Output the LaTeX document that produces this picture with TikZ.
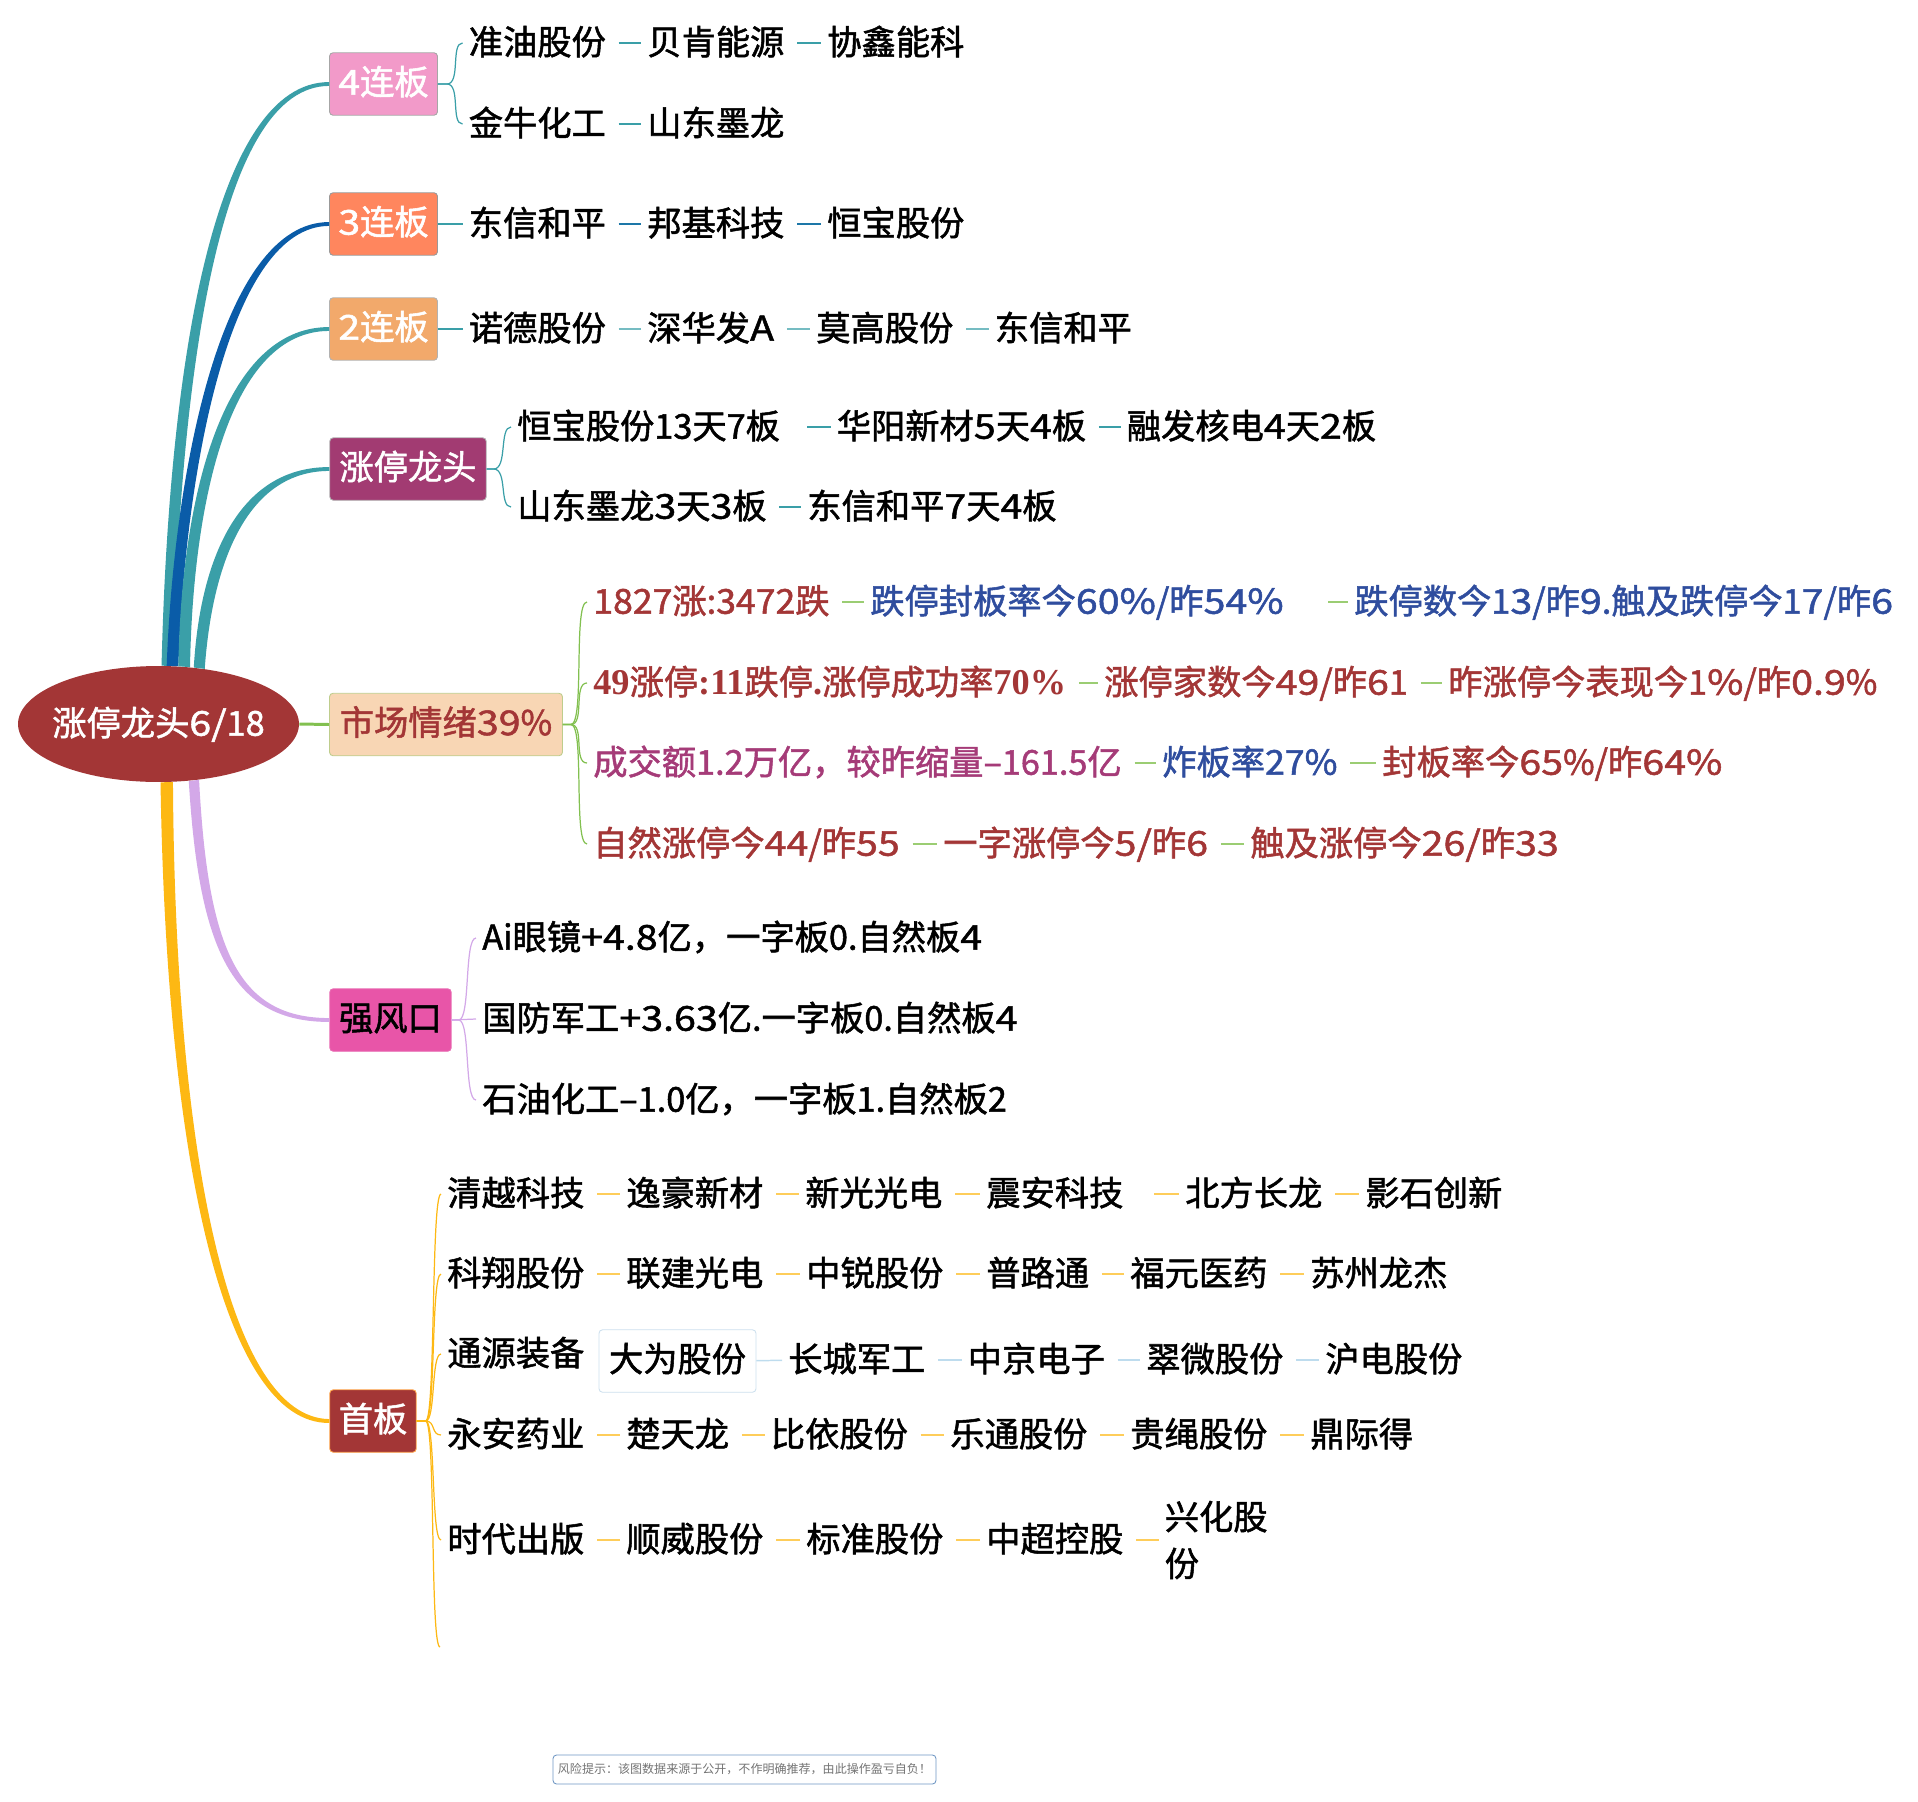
\documentclass[tikz,border=0pt]{standalone}
\usepackage{fontspec}
\usetikzlibrary{shapes.geometric}
\setmainfont{Noto Sans CJK SC}[FakeBold=1.5]
\newfontfamily\plainfont{Noto Sans CJK SC}
\newfontfamily\lat{Noto Sans CJK SC}[FakeBold=1.5,FakeStretch=1.15]
\newfontfamily\latb{Noto Sans CJK SC}[FakeBold=1.5,FakeStretch=1.04]
\newfontfamily\numfont{Liberation Serif}[Scale=1.06]
\definecolor{rootred}{HTML}{A33636}
\definecolor{leafblue}{HTML}{2F4D9E}
\definecolor{leafplum}{HTML}{A53B78}
\definecolor{teal1}{HTML}{3A9FA8}
\definecolor{blue1}{HTML}{0A5CA8}
\definecolor{green1}{HTML}{82C050}
\definecolor{lilac1}{HTML}{D3A8E8}
\definecolor{gold1}{HTML}{FDB813}
\definecolor{sky1}{HTML}{BEDCEE}
\definecolor{pinkbox}{HTML}{F29AC9}
\definecolor{coralbox}{HTML}{FF865E}
\definecolor{sandbox}{HTML}{F2A96B}
\definecolor{plumbox}{HTML}{A23B72}
\definecolor{peachbox}{HTML}{F8D6B4}
\definecolor{peachedge}{HTML}{BECD8C}
\definecolor{hotbox}{HTML}{E855A8}
\definecolor{hotedge}{HTML}{E86EB4}
\definecolor{paleedge}{HTML}{CDE0EE}
\definecolor{riskedge}{HTML}{6E96C3}
\newcommand{\bigfont}{\fontsize{19.5pt}{26.6pt}\selectfont}
\begin{document}
\begin{tikzpicture}[x=0.02cm,y=0.02cm,
	leaf/.style={anchor=west,inner xsep=3.4pt,inner ysep=0pt,font=\bigfont,text height=16.4pt,text depth=3.1pt},
	head/.style={rounded corners=2pt,inner sep=0pt,font=\bigfont,text height=15.8pt,text depth=3.7pt,minimum height=1.25cm,line width=0.5pt},
	limb/.style={fill=#1,draw=none},
	twig/.style={draw=#1,line width=0.7pt},
	link/.style={draw=#1,line width=0.85pt,shorten <=3.7pt}]
	\useasboundingbox (0,0) rectangle (1918,-1802);
	\node [ellipse,fill=rootred,text=white,minimum width=5.62cm,minimum height=2.32cm,inner xsep=-5pt,inner ysep=0pt,font=\bigfont,text height=16.4pt,text depth=3.1pt] (root) at (158.5,-724) {涨停龙头{\lat 6/}18};
	\node [head,fill=pinkbox,draw=gray!70,text=white,minimum width=2.16cm] (b4) at (383.5,-84) {{\lat 4}连板};
	\node [head,fill=coralbox,draw=gray!80,text=white,minimum width=2.16cm] (b3) at (383.5,-224) {{\lat 3}连板};
	\node [head,fill=sandbox,draw=gray!60,text=white,minimum width=2.16cm] (b2) at (383.5,-329) {{\lat 2}连板};
	\node [head,fill=plumbox,draw=gray!60,text=white,minimum width=3.13cm] (blead) at (408,-469) {涨停龙头};
	\node [head,fill=peachbox,draw=peachedge,text=rootred,minimum width=4.66cm] (bmood) at (446,-724.5) {市场情绪{\lat 39}\%};
	\node [head,fill=hotbox,draw=hotedge,text=black,minimum width=2.43cm] (bwind) at (390.5,-1020) {强风口};
	\node [head,fill=rootred,draw=orange!70,text=white,minimum width=1.73cm] (bfirst) at (373,-1421) {首板};
	\fill [limb=teal1] (root.87) .. controls (169,-360) and (215,-82) .. ([yshift=1.1pt]b4.west) -- ([yshift=-1.1pt]b4.west) .. controls (222,-86) and (181,-360) .. (root.76) -- cycle;
	\fill [limb=blue1] (root.82) .. controls (174,-470) and (222,-222) .. ([yshift=1.1pt]b3.west) -- ([yshift=-1.1pt]b3.west) .. controls (230,-226) and (185,-470) .. (root.71) -- cycle;
	\fill [limb=teal1] (root.71) .. controls (181,-500) and (222,-327) .. ([yshift=1.1pt]b2.west) -- ([yshift=-1.1pt]b2.west) .. controls (230,-331) and (193,-500) .. (root.61) -- cycle;
	\fill [limb=teal1] (root.58) .. controls (200,-560) and (238,-467) .. ([yshift=1.1pt]blead.west) -- ([yshift=-1.1pt]blead.west) .. controls (246,-471) and (212,-565) .. (root.50) -- cycle;
	\draw [green1,line width=1.7pt] (root.east) -- (bmood.west);
	\fill [limb=lilac1] (root.-62) .. controls (199,-950) and (232,-1022) .. ([yshift=-1.1pt]bwind.west) -- ([yshift=1.1pt]bwind.west) .. controls (238,-1018) and (208,-950) .. (root.-54) -- cycle;
	\fill [limb=gold1] (root.-88) .. controls (166,-1150) and (222,-1424) .. ([yshift=-1.1pt]bfirst.west) -- ([yshift=1.1pt]bfirst.west) .. controls (228,-1418) and (175,-1150) .. (root.-76) -- cycle;
	\node [leaf] (a1) at (462.5,-43) {准油股份};
	\node [leaf] (a2) at (641,-43) {贝肯能源};
	\node [leaf] (a3) at (821,-43) {协鑫能科};
	\node [leaf] (c1) at (462.5,-124) {金牛化工};
	\node [leaf] (c2) at (641,-124) {山东墨龙};
	\node [leaf] (d1) at (462.5,-224) {东信和平};
	\node [leaf] (d2) at (641,-224) {邦基科技};
	\node [leaf] (d3) at (821,-224) {恒宝股份};
	\node [leaf] (e1) at (462.5,-329) {诺德股份};
	\node [leaf] (e2) at (641,-329) {深华发{\lat A}};
	\node [leaf] (e3) at (810,-329) {莫高股份};
	\node [leaf] (e4) at (988.5,-329) {东信和平};
	\node [leaf] (f1) at (511,-427) {恒宝股份13天7板};
	\node [leaf] (f2) at (830.5,-427) {华阳新材{\lat 5}天{\lat 4}板};
	\node [leaf] (f3) at (1120.5,-427) {融发核电{\lat 4}天{\lat 2}板};
	\node [leaf] (g1) at (511,-507) {山东墨龙{\lat 3}天{\lat 3}板};
	\node [leaf] (g2) at (801,-507) {东信和平{\lat 7}天{\lat 4}板};
	\draw [twig=teal1] (b4.east) -- ++(9,0) .. controls +(14,0) and +(-12,0) .. (a1.west);
	\draw [twig=teal1] (b4.east) -- ++(9,0) .. controls +(14,0) and +(-12,0) .. (c1.west);
	\draw [twig=teal1] (b3.east) -- (d1.west);
	\draw [twig=teal1] (b2.east) -- (e1.west);
	\draw [twig=teal1] (blead.east) -- ++(7,0) .. controls +(14,0) and +(-12,0) .. (f1.west);
	\draw [twig=teal1] (blead.east) -- ++(7,0) .. controls +(14,0) and +(-12,0) .. (g1.west);
	\draw [link=teal1] (a1) -- (a2);
	\draw [link=teal1] (a2) -- (a3);
	\draw [link=teal1] (c1) -- (c2);
	\draw [link=blue1!60!teal1] (d1) -- (d2);
	\draw [link=blue1!60!teal1] (d2) -- (d3);
	\draw [link=teal1!70] (e1) -- (e2);
	\draw [link=teal1!70] (e2) -- (e3);
	\draw [link=teal1!70] (e3) -- (e4);
	\draw [link=teal1,shorten <=11.9pt] (f1) -- (f2);
	\draw [link=teal1] (f2) -- (f3);
	\draw [link=teal1] (g1) -- (g2);
	\node [leaf,text=rootred] (h1) at (587,-602) {{\latb 1827}涨:{\latb 3472}跌};
	\node [leaf,text=leafblue] (h2) at (864,-602) {跌停封板率今{\lat 60\%}/昨{\lat 54\%}};
	\node [leaf,text=leafblue] (h3) at (1348,-602) {跌停数今1{\lat 3}/昨{\lat 9}.触及跌停今1{\lat 7}/昨{\lat 6}};
	\node [leaf,text=rootred] (i1) at (587,-683) {{\numfont\bfseries 49}涨停{\numfont\bfseries :11}跌停{\numfont\bfseries .}涨停成功率{\numfont\bfseries 70\%}};
	\node [leaf,text=rootred] (i2) at (1098,-683) {涨停家数今{\lat 49}/昨{\lat 6}1};
	\node [leaf,text=rootred] (i3) at (1442,-683) {昨涨停今表现今1{\lat\%}/昨{\lat 0.9}\%};
	\node [leaf,text=leafplum] (j1) at (587,-763) {成交额1.2万亿，较昨缩量–161.5亿};
	\node [leaf,text=leafblue] (j2) at (1156,-763) {炸板率{\latb 27\%}};
	\node [leaf,text=rootred] (j3) at (1376,-763) {封板率今{\lat 65}\%/昨{\lat 64\%}};
	\node [leaf,text=rootred] (k1) at (587,-844) {自然涨停今{\lat 44}/昨{\lat 55}};
	\node [leaf,text=rootred] (k2) at (937,-844) {一字涨停今{\lat 5/}昨{\lat 6}};
	\node [leaf,text=rootred] (k3) at (1244,-844) {触及涨停今{\lat 26/}昨{\lat 33}};
	\draw [twig=green1] (bmood.east) -- ++(8,0) .. controls +(14,0) and +(-14,0) .. (h1.west);
	\draw [twig=green1] (bmood.east) -- ++(8,0) .. controls +(14,0) and +(-14,0) .. (i1.west);
	\draw [twig=green1] (bmood.east) -- ++(8,0) .. controls +(14,0) and +(-14,0) .. (j1.west);
	\draw [twig=green1] (bmood.east) -- ++(8,0) .. controls +(14,0) and +(-14,0) .. (k1.west);
	\draw [link=green1!80] (h1) -- (h2);
	\draw [link=green1!80,shorten <=21.7pt] (h2) -- (h3);
	\draw [link=green1!80] (i1) -- (i2);
	\draw [link=green1!80] (i2) -- (i3);
	\draw [link=green1!80] (j1) -- (j2);
	\draw [link=green1!80] (j2) -- (j3);
	\draw [link=green1!80] (k1) -- (k2);
	\draw [link=green1!80] (k2) -- (k3);
	\node [leaf] (m1) at (476,-938) {Ai眼镜{\lat +4.8}亿，一字板0.自然板{\lat 4}};
	\node [leaf] (m2) at (476,-1019) {国防军工{\lat +3.63}亿.一字板0.自然板{\lat 4}};
	\node [leaf] (m3) at (476,-1100) {石油化工–1.0亿，一字板1.自然板2};
	\draw [twig=lilac1] (bwind.east) -- ++(7,0) .. controls +(12,0) and +(-12,0) .. (m1.west);
	\draw [twig=lilac1] (bwind.east) -- (m2.west);
	\draw [twig=lilac1] (bwind.east) -- ++(7,0) .. controls +(12,0) and +(-12,0) .. (m3.west);
	\node [leaf] (p1) at (441,-1194) {清越科技};
	\node [leaf] (p2) at (620,-1194) {逸豪新材};
	\node [leaf] (p3) at (799,-1194) {新光光电};
	\node [leaf] (p4) at (980,-1194) {震安科技};
	\node [leaf] (p5) at (1179,-1194) {北方长龙};
	\node [leaf] (p6) at (1359,-1194) {影石创新};
	\node [leaf] (q1) at (441,-1274) {科翔股份};
	\node [leaf] (q2) at (620,-1274) {联建光电};
	\node [leaf] (q3) at (800,-1274) {中锐股份};
	\node [leaf] (q4) at (980,-1274) {普路通};
	\node [leaf] (q5) at (1124,-1274) {福元医药};
	\node [leaf] (q6) at (1304,-1274) {苏州龙杰};
	\node [leaf] (r1) at (441,-1354) {通源装备};
	\node [head,fill=white,draw=paleedge,minimum width=3.14cm] (r2) at (677.5,-1361) {大为股份};
	\node [leaf] (r3) at (782,-1360) {长城军工};
	\node [leaf] (r4) at (961.5,-1360) {中京电子};
	\node [leaf] (r5) at (1140,-1360) {翠微股份};
	\node [leaf] (r6) at (1319,-1360) {沪电股份};
	\node [leaf] (s1) at (441,-1435) {永安药业};
	\node [leaf] (s2) at (620,-1435) {楚天龙};
	\node [leaf] (s3) at (764.5,-1435) {比依股份};
	\node [leaf] (s4) at (944,-1435) {乐通股份};
	\node [leaf] (s5) at (1124,-1435) {贵绳股份};
	\node [leaf] (s6) at (1304,-1435) {鼎际得};
	\node [leaf] (t1) at (441,-1540) {时代出版};
	\node [leaf] (t2) at (620,-1540) {顺威股份};
	\node [leaf] (t3) at (800,-1540) {标准股份};
	\node [leaf] (t4) at (980,-1540) {中超控股};
	\node [anchor=west,inner xsep=3.4pt,inner ysep=0pt,font=\bigfont,align=left] (t5) at (1158.5,-1540) {兴化股\\份};
	\coordinate (spare) at (440,-1647);
	\draw [twig=gold1] (bfirst.east) -- ++(9,0) .. controls +(10,0) and +(-10,0) .. (p1.west);
	\draw [twig=gold1] (bfirst.east) -- ++(9,0) .. controls +(10,0) and +(-10,0) .. (q1.west);
	\draw [twig=gold1] (bfirst.east) -- ++(9,0) .. controls +(10,0) and +(-10,0) .. (r1.west);
	\draw [twig=gold1] (bfirst.east) -- ++(9,0) .. controls +(10,0) and +(-10,0) .. (s1.west);
	\draw [twig=gold1] (bfirst.east) -- ++(9,0) .. controls +(10,0) and +(-10,0) .. (t1.west);
	\draw [twig=gold1] (bfirst.east) -- ++(9,0) .. controls +(10,0) and +(-10,0) .. (spare);
	\draw [link=gold1!70] (p1) -- (p2);
	\draw [link=gold1!70] (p2) -- (p3);
	\draw [link=gold1!70] (p3) -- (p4);
	\draw [link=gold1!70,shorten <=14pt] (p4) -- (p5);
	\draw [link=gold1!70] (p5) -- (p6);
	\draw [link=gold1!70] (q1) -- (q2);
	\draw [link=gold1!70] (q2) -- (q3);
	\draw [link=gold1!70] (q3) -- (q4);
	\draw [link=gold1!70] (q4) -- (q5);
	\draw [link=gold1!70] (q5) -- (q6);
	\draw [link=sky1,shorten <=0pt] (r2) -- (r3);
	\draw [link=sky1] (r3) -- (r4);
	\draw [link=sky1] (r4) -- (r5);
	\draw [link=sky1] (r5) -- (r6);
	\draw [link=gold1!70] (s1) -- (s2);
	\draw [link=gold1!70] (s2) -- (s3);
	\draw [link=gold1!70] (s3) -- (s4);
	\draw [link=gold1!70] (s4) -- (s5);
	\draw [link=gold1!70] (s5) -- (s6);
	\draw [link=gold1!70] (t1) -- (t2);
	\draw [link=gold1!70] (t2) -- (t3);
	\draw [link=gold1!70] (t3) -- (t4);
	\draw [link=gold1!70] (t4) -- (t5);
	\node [draw=riskedge,rounded corners=2pt,line width=0.5pt,text=gray!90!black,inner sep=0pt,minimum width=7.66cm,minimum height=0.58cm,font=\plainfont\fontsize{6.85pt}{8pt}\selectfont] (risk) at (744.5,-1769.5) {风险提示：该图数据来源于公开，不作明确推荐，由此操作盈亏自负！};
\end{tikzpicture}
\end{document}
